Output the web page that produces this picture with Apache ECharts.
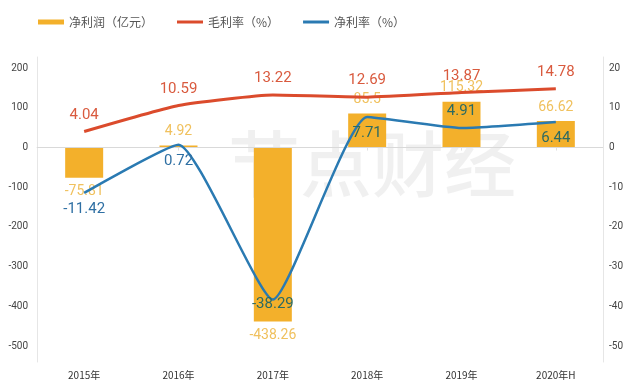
<!DOCTYPE html>
<html><head><meta charset="utf-8">
<script src="https://cdn.jsdelivr.net/npm/echarts@6/dist/echarts.min.js"></script>
<style>html,body{margin:0;padding:0;background:#fff}#c{width:626px;height:391px}</style>
</head><body><div id="c"></div>
<script>
const categories = ['2015年', '2016年', '2017年', '2018年', '2019年', '2020年H'];
const netProfit = [-75.81, 4.92, -438.26, 85.5, 115.32, 66.62];
const grossMargin = [4.04, 10.59, 13.22, 12.69, 13.87, 14.78];
const netMargin = [-11.42, 0.72, -38.29, 7.71, 4.91, 6.44];
const leftTicks = [200, 100, 0, -100, -200, -300, -400, -500];
const rightTicks = [20, 10, 0, -10, -20, -30, -40, -50];
const netMarginLabelPos = ['bottom', 'bottom', 'bottom', 'bottom', 'top', 'bottom'];
const netMarginLabelOnBar = [false, false, true, true, true, true];
const netMarginLabelShift = [0, 0, -12, 0, 0, 0];

const FONT = 'Roboto, "Noto Sans", "Noto Sans CJK SC", sans-serif';
const CJK = '"Noto Sans CJK SC", "Noto Sans", sans-serif';

const chart = echarts.init(document.getElementById('c'), null, {renderer: 'canvas'});
chart.setOption({
  animation: false,
  backgroundColor: '#fff',
  graphic: [{
    type: 'text', left: 228, top: 128, silent: true, z: 0,
    style: {text: '节点财经', font: '500 72px "Noto Sans CJK SC"', fill: 'rgba(0,0,0,0.06)'}
  }],
  legend: {
    left: 33, top: 11, itemWidth: 26, itemHeight: 5, itemGap: 24,
    textStyle: {fontFamily: CJK, fontSize: 12, color: '#555'},
    data: [
      {name: '净利润（亿元）', icon: 'rect'},
      {name: '毛利率（%）', icon: 'path://M0,0L26,0L26,3L0,3Z'},
      {name: '净利率（%）', icon: 'path://M0,0L26,0L26,3L0,3Z'}
    ]
  },
  grid: {left: 37, right: 15, top: 57, bottom: 29, containLabel: false},
  xAxis: {
    type: 'category', data: categories,
    axisLine: {lineStyle: {color: '#e6e6e6'}},
    axisTick: {show: true, alignWithLabel: true, length: 3, lineStyle: {color: '#e0e0e0'}},
    axisLabel: {fontFamily: CJK, fontSize: 10, color: '#333', margin: 8}
  },
  yAxis: [{
    type: 'value', min: -540, max: 228, position: 'left',
    axisLine: {show: true, lineStyle: {color: '#e6e6e6'}},
    axisTick: {show: false},
    splitLine: {show: false},
    axisLabel: {customValues: leftTicks, fontFamily: FONT, fontSize: 10, color: '#444', margin: 9}
  }, {
    type: 'value', min: -54, max: 22.8, position: 'right',
    axisLine: {show: true, lineStyle: {color: '#e6e6e6'}},
    axisTick: {show: false},
    splitLine: {show: false},
    axisLabel: {customValues: rightTicks, fontFamily: FONT, fontSize: 10, color: '#444', margin: 6, align: 'left'}
  }],
  series: [{
    name: '净利润（亿元）', type: 'bar', yAxisIndex: 0, barWidth: 38,
    itemStyle: {color: '#F3B02B'},
    data: netProfit.map(v => ({value: v, label: {position: v < 0 ? 'bottom' : 'top'}})),
    label: {show: true, distance: 7, fontFamily: FONT, fontSize: 14, color: '#F0C15E'},
    markLine: {
      silent: true, symbol: 'none', label: {show: false},
      lineStyle: {color: '#d9d9d9', type: 'solid', width: 1},
      data: [{yAxis: 0}]
    },
    z: 2
  }, {
    name: '毛利率（%）', type: 'line', yAxisIndex: 1, smooth: 0.15,
    symbol: 'circle', symbolSize: 0.1, lineStyle: {color: '#DB4B2C', width: 3}, itemStyle: {color: '#DB4B2C'},
    data: grossMargin,
    label: {show: true, position: 'top', distance: 9, fontFamily: FONT, fontSize: 15, color: '#D95A3E'},
    z: 4
  }, {
    name: '净利率（%）', type: 'line', yAxisIndex: 1, smooth: 0.15,
    symbol: 'circle', symbolSize: 0.1, lineStyle: {color: '#2A7AB2', width: 2.5}, itemStyle: {color: '#2A7AB2'},
    data: netMargin.map((v, i) => ({value: v, label: {
      position: netMarginLabelPos[i], offset: [0, netMarginLabelShift[i]],
      color: netMarginLabelOnBar[i] ? '#2C6A62' : '#2E6FA3'}})),
    label: {show: true, distance: 9, fontFamily: FONT, fontSize: 15},
    z: 5
  }]
});
</script></body></html>
